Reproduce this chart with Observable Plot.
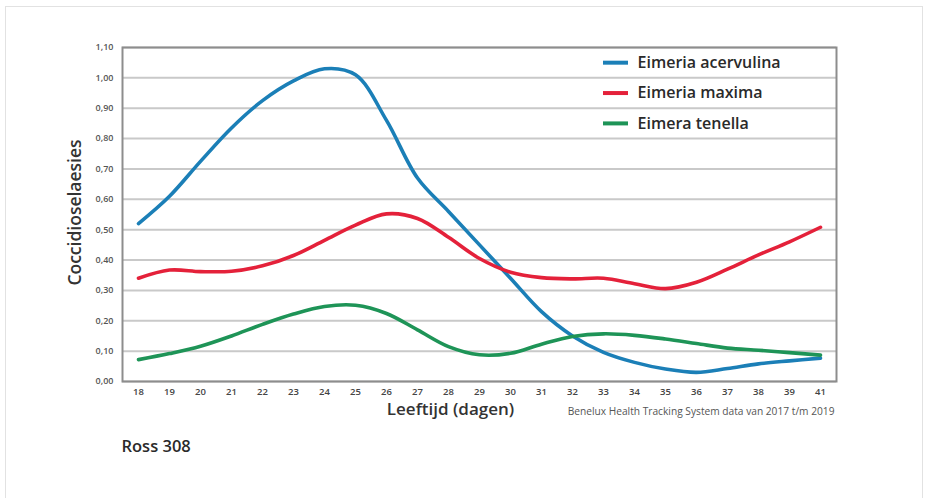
<!DOCTYPE html>
<html>
<head>
<meta charset="utf-8">
<script src="https://cdn.jsdelivr.net/npm/d3@7"></script>
<script src="https://cdn.jsdelivr.net/npm/@observablehq/plot@0.6"></script>
<style>
  html, body { margin: 0; padding: 0; background: #ffffff; }
  #wrap { position: relative; width: 930px; height: 498px; overflow: hidden; }
  #border { position: absolute; left: 5px; top: 6px; width: 918px; height: 500px; border: 1px solid #e2e2e2; box-sizing: border-box; pointer-events: none; }
</style>
</head>
<body>
<div id="wrap"><div id="border"></div></div>
<script>
// ---- data ----
const days = ["18","19","20","21","22","23","24","25","26","27","28","29","30","31","32","33","34","35","36","37","38","39","41"];
const acervulina = [0.52,0.61,0.725,0.835,0.925,0.99,1.03,1.01,0.86,0.67,0.56,0.45,0.34,0.23,0.15,0.096,0.063,0.041,0.03,0.043,0.058,0.068,0.077];
const maxima     = [0.34,0.367,0.362,0.363,0.381,0.415,0.465,0.515,0.552,0.537,0.475,0.405,0.36,0.342,0.338,0.34,0.322,0.306,0.327,0.37,0.417,0.46,0.508];
const tenella    = [0.072,0.092,0.116,0.15,0.188,0.222,0.247,0.251,0.224,0.17,0.115,0.088,0.093,0.123,0.148,0.157,0.152,0.14,0.125,0.11,0.103,0.095,0.087];
const seriesNames = ["Eimeria acervulina","Eimeria maxima","Eimera tenella"];
const seriesColors = ["#1b7fb7","#e4213a","#1e9457"];
const yTicks = [0,0.1,0.2,0.3,0.4,0.5,0.6,0.7,0.8,0.9,1.0,1.1];
const yLabel = "Coccidioselaesies";
const xLabel = "Leeftijd (dagen)";
const caption = "Benelux Health Tracking System data van 2017 t/m 2019";
const footer = "Ross 308";

// ---- build table ----
const valuesBySeries = [acervulina, maxima, tenella];
const rows = [];
valuesBySeries.forEach((vals, s) => vals.forEach((v, i) => rows.push({day: days[i], value: v, series: seriesNames[s]})));
const legendRows = seriesNames.map((name, i) => ({name, y: 1.05 - i * 0.1}));

const fmt = v => v.toFixed(2).replace(".", ",");
const font = "'Open Sans', Lato, sans-serif";

const chart = Plot.plot({
  width: 930,
  height: 498,
  marginLeft: 122,
  marginRight: 94,
  marginTop: 47,
  marginBottom: 117,
  style: {fontFamily: font, background: "transparent", overflow: "visible"},
  x: {type: "point", domain: days, padding: 0.45},
  y: {domain: [0, 1.1]},
  color: {domain: seriesNames, range: seriesColors},
  marks: [
    Plot.gridY(yTicks, {stroke: "#c9c9c9", strokeWidth: 2, strokeOpacity: 1}),
    Plot.frame({stroke: "#8d8d8d", strokeWidth: 2}),
    Plot.axisY(yTicks, {tickSize: 0, tickPadding: 9, tickFormat: fmt, label: null, fontSize: 9, fontWeight: 600, fill: "#555"}),
    Plot.axisX(days, {tickSize: 0, tickPadding: 7, label: null, fontSize: 9.5, fontWeight: 600, fill: "#444"}),
    Plot.line(rows, {x: "day", y: "value", stroke: "series", z: "series", curve: "catmull-rom", strokeWidth: 3.6, strokeLinecap: "round"}),
    Plot.ruleY(legendRows, {y: "y", stroke: "name", strokeWidth: 4, insetLeft: 481, insetRight: 208}),
    Plot.text(legendRows, {y: "y", text: "name", frameAnchor: "left", dx: 515, textAnchor: "start", fontSize: 16, fontWeight: 600, fill: "#2a2a2a", letterSpacing: "0.7px"}),
    Plot.text([yLabel], {frameAnchor: "left", textAnchor: "middle", dx: -47, dy: -2, rotate: -90, fontSize: 17.5, fontWeight: 600, fill: "#333"}),
    Plot.text([xLabel], {frameAnchor: "bottom", textAnchor: "middle", dx: -29, dy: 33, fontSize: 17, fontWeight: 600, fill: "#333"}),
    Plot.text([caption], {frameAnchor: "bottom-right", textAnchor: "end", dx: -2, dy: 33, fontSize: 10.2, fill: "#555"}),
    Plot.text([footer], {frameAnchor: "bottom-left", textAnchor: "start", dx: -1, dy: 70, fontSize: 16.5, fontWeight: 600, fill: "#2a2a2a"})
  ]
});
document.getElementById("wrap").appendChild(chart);
</script>
</body>
</html>
